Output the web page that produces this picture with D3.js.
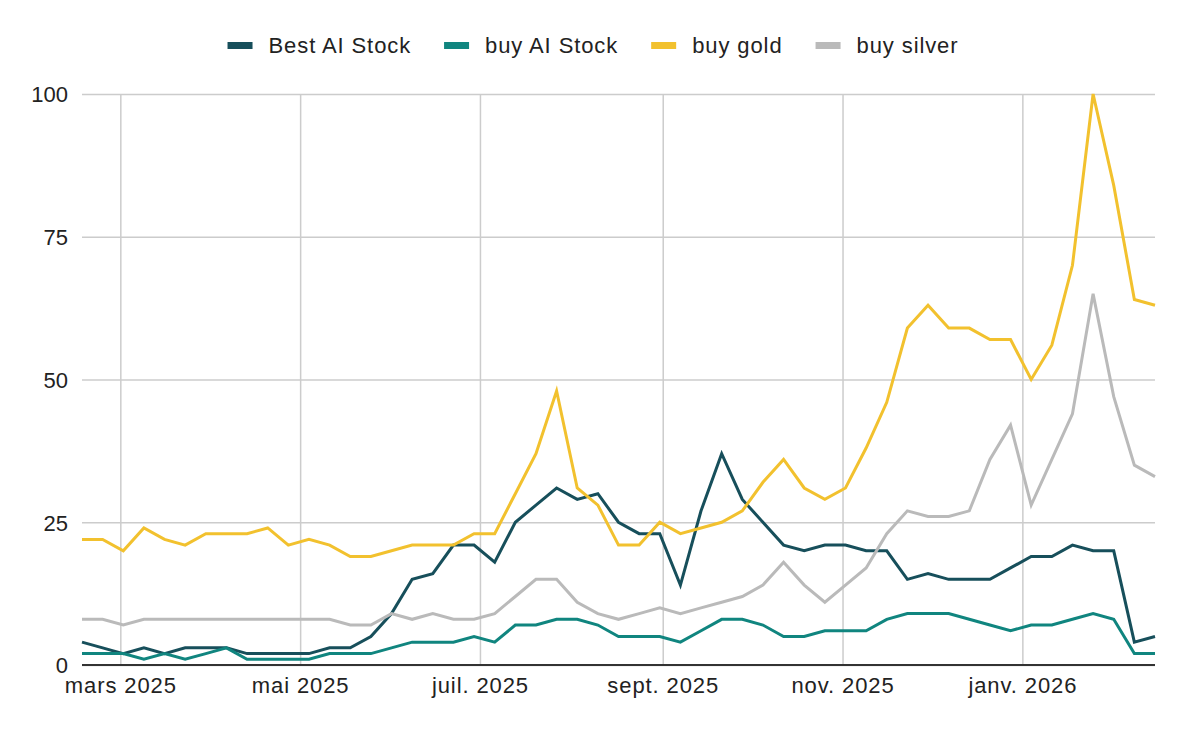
<!DOCTYPE html>
<html>
<head>
<meta charset="utf-8">
<script src="https://cdn.jsdelivr.net/npm/d3@7"></script>
<style>
    body { margin: 0; background: #fff; }
    text { font-family: "Liberation Sans", Arial, sans-serif; fill: #222; }
</style>
</head>
<body>
<svg id="chart" width="1190" height="736"></svg>
<script>
// weekly dates (Sundays)
const weeks = [
    '2025-02-16', '2025-02-23', '2025-03-02', '2025-03-09', '2025-03-16', '2025-03-23', '2025-03-30',
    '2025-04-06', '2025-04-13', '2025-04-20', '2025-04-27', '2025-05-04', '2025-05-11', '2025-05-18',
    '2025-05-25', '2025-06-01', '2025-06-08', '2025-06-15', '2025-06-22', '2025-06-29', '2025-07-06',
    '2025-07-13', '2025-07-20', '2025-07-27', '2025-08-03', '2025-08-10', '2025-08-17', '2025-08-24',
    '2025-08-31', '2025-09-07', '2025-09-14', '2025-09-21', '2025-09-28', '2025-10-05', '2025-10-12',
    '2025-10-19', '2025-10-26', '2025-11-02', '2025-11-09', '2025-11-16', '2025-11-23', '2025-11-30',
    '2025-12-07', '2025-12-14', '2025-12-21', '2025-12-28', '2026-01-04', '2026-01-11', '2026-01-18',
    '2026-01-25', '2026-02-01', '2026-02-08', '2026-02-15'
];

const seriesNames = ['Best AI Stock', 'buy AI Stock', 'buy gold', 'buy silver'];
const seriesColors = ['#174f5b', '#10857f', '#f2c12e', '#bababa'];

const bestAiStock = [4, 3, 2, 3, 2, 3, 3, 3, 2, 2, 2, 2, 3, 3, 5, 9, 15, 16, 21, 21, 18, 25, 28, 31, 29, 30,
    25, 23, 23, 14, 27, 37, 29, 25, 21, 20, 21, 21, 20, 20, 15, 16, 15, 15, 15, 17, 19, 19, 21, 20, 20, 4, 5];
const buyAiStock = [2, 2, 2, 1, 2, 1, 2, 3, 1, 1, 1, 1, 2, 2, 2, 3, 4, 4, 4, 5, 4, 7, 7, 8, 8, 7,
    5, 5, 5, 4, 6, 8, 8, 7, 5, 5, 6, 6, 6, 8, 9, 9, 9, 8, 7, 6, 7, 7, 8, 9, 8, 2, 2];
const buyGold = [22, 22, 20, 24, 22, 21, 23, 23, 23, 24, 21, 22, 21, 19, 19, 20, 21, 21, 21, 23, 23, 30, 37, 48, 31, 28,
    21, 21, 25, 23, 24, 25, 27, 32, 36, 31, 29, 31, 38, 46, 59, 63, 59, 59, 57, 57, 50, 56, 70, 100, 84, 64, 63];
const buySilver = [8, 8, 7, 8, 8, 8, 8, 8, 8, 8, 8, 8, 8, 7, 7, 9, 8, 9, 8, 8, 9, 12, 15, 15, 11, 9,
    8, 9, 10, 9, 10, 11, 12, 14, 18, 14, 11, 14, 17, 23, 27, 26, 26, 27, 36, 42, 28, 36, 44, 65, 47, 35, 33];

const yTicks = [0, 25, 50, 75, 100];
const xTickDates = ['2025-03-01', '2025-05-01', '2025-07-01', '2025-09-01', '2025-11-01', '2026-01-01'];
const xTickLabels = ['mars 2025', 'mai 2025', 'juil. 2025', 'sept. 2025', 'nov. 2025', 'janv. 2026'];


const build = () => {
    const svg = d3.select('#chart');
    const width = +svg.attr('width');
    const height = +svg.attr('height');

    const margin = {top: 94, right: 35, bottom: 71, left: 82};
    const innerWidth = width - margin.left - margin.right;
    const innerHeight = height - margin.top - margin.bottom;

    const parse = d3.timeParse('%Y-%m-%d');
    const dates = weeks.map(parse);
    const values = [bestAiStock, buyAiStock, buyGold, buySilver];

    const xScale = d3.scaleTime()
        .domain(d3.extent(dates))
        .range([0, innerWidth]);

    const yScale = d3.scaleLinear()
        .domain([0, 100])
        .range([innerHeight, 0]);

    const g = svg.append('g')
        .attr('transform', 'translate(' + margin.left + ',' + margin.top + ')');

    // horizontal grid + y labels
    const yAxis = d3.axisLeft(yScale)
        .tickValues(yTicks)
        .tickSize(-innerWidth)
        .tickPadding(14);
    const yg = g.append('g').call(yAxis);
    yg.select('.domain').remove();
    yg.selectAll('line').attr('stroke', '#cccccc').attr('stroke-width', 1.5);
    yg.selectAll('text').attr('font-size', 22).attr('fill', '#222').attr('dy', '0.36em');

    // vertical grid + x labels
    const xAxis = d3.axisBottom(xScale)
        .tickValues(xTickDates.map(parse))
        .tickFormat((d, i) => xTickLabels[i])
        .tickSize(-innerHeight)
        .tickPadding(12);
    const xg = g.append('g')
        .attr('transform', 'translate(0,' + innerHeight + ')')
        .call(xAxis);
    xg.select('.domain').remove();
    xg.selectAll('line').attr('stroke', '#cccccc').attr('stroke-width', 1.5);
    xg.selectAll('text')
        .attr('font-size', 22)
        .attr('letter-spacing', 0.9)
        .attr('fill', '#222');

    // baseline
    g.append('line')
        .attr('x1', 0)
        .attr('x2', innerWidth)
        .attr('y1', yScale(0))
        .attr('y2', yScale(0))
        .attr('stroke', '#333')
        .attr('stroke-width', 2);

    const line = d3.line()
        .x((d, i) => xScale(dates[i]))
        .y(d => yScale(d));

    g.selectAll('path.series')
        .data(values)
        .enter()
        .append('path')
        .attr('class', 'series')
        .attr('d', line)
        .attr('fill', 'none')
        .attr('stroke', (d, i) => seriesColors[i])
        .attr('stroke-width', 3);

    // legend
    const legend = svg.append('g');
    const items = legend.selectAll('g')
        .data(seriesNames)
        .enter()
        .append('g');

    items.append('rect')
        .attr('width', 25)
        .attr('height', 7)
        .attr('y', 42)
        .attr('fill', (d, i) => seriesColors[i]);

    items.append('text')
        .attr('x', 41)
        .attr('y', 53)
        .attr('font-size', 22)
        .attr('letter-spacing', 0.9)
        .text(d => d);

    let xPos = 0;
    items.each(function () {
        const w = d3.select(this).select('text').node().getComputedTextLength();
        d3.select(this).attr('transform', 'translate(' + xPos + ',0)');
        xPos += 41 + w + 33;
    });
    const total = xPos - 33;
    legend.attr('transform', 'translate(' + ((width - total) / 2 - 2) + ',0)');
};

build();
</script>
</body>
</html>
